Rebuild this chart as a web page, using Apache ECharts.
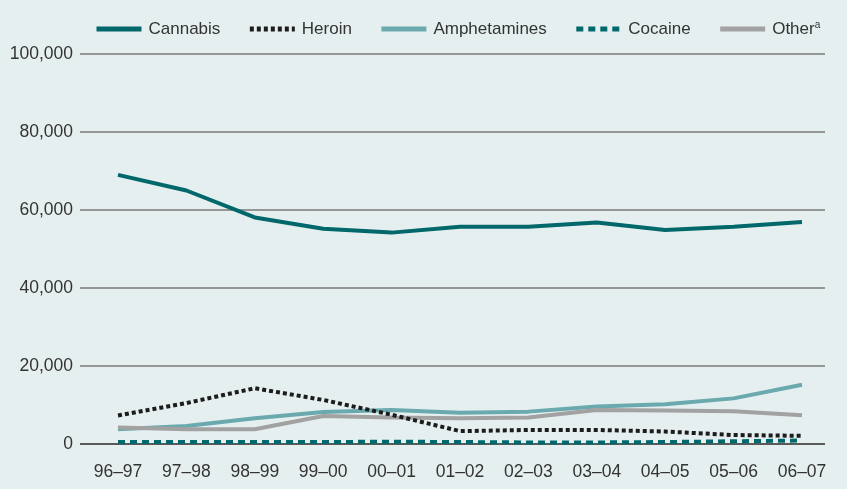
<!DOCTYPE html>
<html>
<head>
<meta charset="utf-8">
<script src="https://cdn.jsdelivr.net/npm/echarts@6/dist/echarts.min.js"></script>
<style>
html,body{margin:0;padding:0;background:#e6eff0;}
#chart{width:847px;height:489px;}
</style>
</head>
<body>
<div id="chart"></div>
<script>
var categories = ['96–97','97–98','98–99','99–00','00–01','01–02','02–03','03–04','04–05','05–06','06–07'];
var cannabis     = [69000, 65000, 58100, 55200, 54200, 55700, 55700, 56800, 54900, 55700, 56900];
var heroin       = [7300, 10500, 14300, 11300, 7500, 3300, 3600, 3600, 3200, 2300, 2100];
var amphetamines = [3800, 4600, 6600, 8200, 8700, 8000, 8300, 9600, 10200, 11700, 15200];
var cocaine      = [500, 500, 500, 500, 600, 500, 400, 400, 500, 700, 900];
var other        = [4200, 3800, 3800, 7200, 6800, 6600, 6800, 8700, 8600, 8400, 7400];
var yTicks = [0, 20000, 40000, 60000, 80000, 100000];

var FONT = '"Liberation Sans", Arial, sans-serif';
var FS = 17.5;
var chart = echarts.init(document.getElementById('chart'));

function mk(name, data, color, width, type, z) {
  return {
    name: name, type: 'line', data: data, xAxisIndex: 1, yAxisIndex: 1,
    symbol: 'none', showSymbol: false, smooth: false, z: z,
    lineStyle: {color: color, width: width, type: type, cap: 'butt'},
    itemStyle: {color: color}
  };
}

chart.setOption({
  backgroundColor: '#e6eff0',
  animation: false,
  legend: {
    data: ['Cannabis', 'Heroin', 'Amphetamines', 'Cocaine', 'Other'],
    left: 89, top: 15,
    itemWidth: 45, itemHeight: 16, itemGap: 27,
    itemStyle: {opacity: 0},
    lineStyle: {width: 5},
    formatter: function (n) { return n === 'Other' ? '{n|Other}{s|a}' : n; },
    textStyle: {
      fontFamily: FONT, fontSize: 17, color: '#333',
      padding: [0, 0, 0, 2],
      rich: {
        n: {fontFamily: FONT, fontSize: 17, color: '#333'},
        s: {fontFamily: FONT, fontSize: 10, color: '#333', verticalAlign: 'top', padding: [0, 0, 8, 0]}
      }
    }
  },
  grid: [
    {left: 80, right: 22, top: 54, bottom: 45},
    {left: 118, right: 45, top: 54, bottom: 45}
  ],
  xAxis: [
    {type: 'value', gridIndex: 0, show: false, min: 0, max: 1},
    {type: 'category', gridIndex: 1, data: categories, boundaryGap: false,
     axisLine: {show: false}, axisTick: {show: false},
     axisLabel: {fontFamily: FONT, fontSize: FS, color: '#333', margin: 19, interval: 0}}
  ],
  yAxis: [
    {type: 'value', gridIndex: 0, min: yTicks[0], max: yTicks[yTicks.length - 1], interval: 20000,
     axisLine: {show: false}, axisTick: {show: false},
     axisLabel: {fontFamily: FONT, fontSize: FS, color: '#333', margin: 7,
       formatter: function (v) { return echarts.format.addCommas(v); }},
     splitLine: {show: true, lineStyle: {color: ['#2a2a2a', '#7a7a7a', '#7a7a7a', '#7a7a7a', '#7a7a7a', '#7a7a7a'], width: 1.5}}},
    {type: 'value', gridIndex: 1, min: yTicks[0], max: yTicks[yTicks.length - 1], show: false, splitLine: {show: false}}
  ],
  series: [
    mk('Cannabis', cannabis, '#00676b', 4, 'solid', 5),
    mk('Amphetamines', amphetamines, '#6aa9ad', 4, 'solid', 3),
    mk('Other', other, '#a2a2a2', 4, 'solid', 4),
    mk('Cocaine', cocaine, '#00696c', 4, [7, 5], 6),
    mk('Heroin', heroin, '#1c1c1c', 4, [4, 3], 7)
  ]
});
</script>
</body>
</html>
